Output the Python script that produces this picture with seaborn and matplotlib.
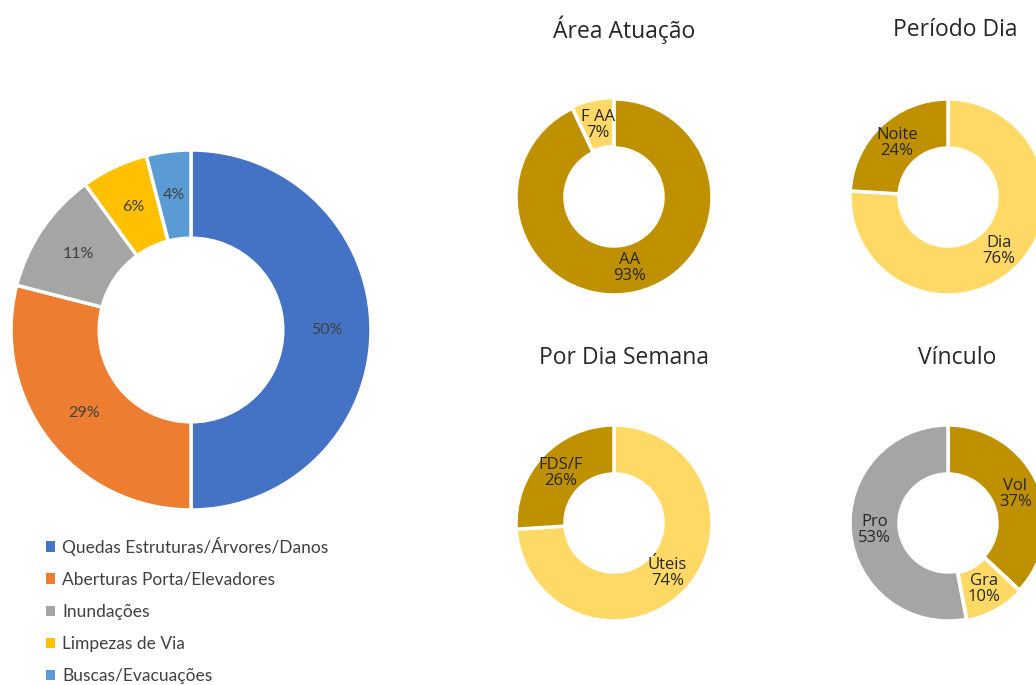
import numpy as np
import matplotlib
matplotlib.use("Agg")
import matplotlib.pyplot as plt
from matplotlib.patches import Patch
import seaborn as sns

sns.set_theme(style="white")
plt.rcParams['font.family'] = ['Lato', 'DejaVu Sans']

# ---- data ----
main_labels = ["Quedas Estruturas/Árvores/Danos", "Aberturas Porta/Elevadores",
               "Inundações", "Limpezas de Via", "Buscas/Evacuações"]
main_values = [50, 29, 11, 6, 4]
main_colors = ["#4472C4", "#ED7D31", "#A5A5A5", "#FFC000", "#5B9BD5"]

area_labels = ["AA", "F AA"]
area_values = [93, 7]

periodo_labels = ["Dia", "Noite"]
periodo_values = [76, 24]

semana_labels = ["Úteis", "FDS/F"]
semana_values = [74, 26]

vinculo_labels = ["Vol", "Gra", "Pro"]
vinculo_values = [37, 10, 53]

DARK = "#BF9000"
LIGHT = "#FFD966"
GRAY = "#A5A5A5"

W, H = 1036, 685
fig = plt.figure(figsize=(W / 100, H / 100), dpi=100)
fig.patch.set_facecolor("white")


def make_ax(cx, cy, r):
    ax = fig.add_axes([(cx - r) / W, (H - cy - r) / H, 2 * r / W, 2 * r / H])
    return ax


def donut(ax, values, colors, labels, width, pctdist, fs, font, explode=None, lw=2.5, color="#262626"):
    wedges, _ = ax.pie(values, colors=colors, startangle=90, counterclock=False,
                       radius=1.0, explode=explode,
                       wedgeprops=dict(width=width, edgecolor="white", linewidth=lw))
    ax.set_xlim(-1.05, 1.05)
    ax.set_ylim(-1.05, 1.05)
    ax.set_aspect("equal")
    ax.axis("off")
    total = sum(values)
    for w, lab, v in zip(wedges, labels, values):
        ang = np.deg2rad((w.theta1 + w.theta2) / 2)
        cx, cy = w.center
        x = cx + pctdist * np.cos(ang)
        y = cy + pctdist * np.sin(ang)
        txt = f"{lab}\n{v / total * 100:.0f}%" if lab else f"{v / total * 100:.0f}%"
        ax.text(x, y, txt, ha="center", va="center", fontsize=fs, color=color,
                family=font, linespacing=1.0)
    return wedges


# main donut
ax0 = make_ax(191, 330, 180 * 1.05)
donut(ax0, main_values, main_colors, [""] * len(main_values), 0.49, 0.755, 11.5,
      ['Lato', 'DejaVu Sans'], lw=2.5, color="#404040")

handles = [Patch(facecolor=c, edgecolor="none") for c in main_colors]
fig.legend(handles, main_labels, loc="upper left", bbox_to_anchor=(30 / W, 1 - 521 / H),
           frameon=False, fontsize=12.5, handlelength=0.55, handleheight=0.55,
           handletextpad=0.4, labelspacing=0.93, labelcolor="#404040")

small_font = ['Open Sans', 'DejaVu Sans']
r = 98 * 1.05

ax1 = make_ax(614, 197, r)
donut(ax1, area_values, [DARK, LIGHT], area_labels, 0.5, 0.74, 12, small_font,
      explode=[0, 0.015])
ax2 = make_ax(948, 197, r)
donut(ax2, periodo_values, [LIGHT, DARK], periodo_labels, 0.5, 0.76, 12, small_font)
ax3 = make_ax(614, 523, r)
donut(ax3, semana_values, [LIGHT, DARK], semana_labels, 0.5, 0.75, 12, small_font)
ax4 = make_ax(948, 523, r)
donut(ax4, vinculo_values, [DARK, LIGHT, GRAY], vinculo_labels, 0.5, 0.75, 12, small_font,
      explode=[0, 0.015, 0])

title_kw = dict(ha="center", va="center", fontsize=16.5, color="#262626", family=small_font)
fig.text(624 / W, 1 - 30 / H, "Área Atuação", **title_kw)
fig.text(955 / W, 1 - 30 / H, "Período Dia", **title_kw)
fig.text(624 / W, 1 - 358 / H, "Por Dia Semana", **title_kw)
fig.text(957 / W, 1 - 358 / H, "Vínculo", **title_kw)

fig.savefig("out.png", dpi=100, facecolor="white")
